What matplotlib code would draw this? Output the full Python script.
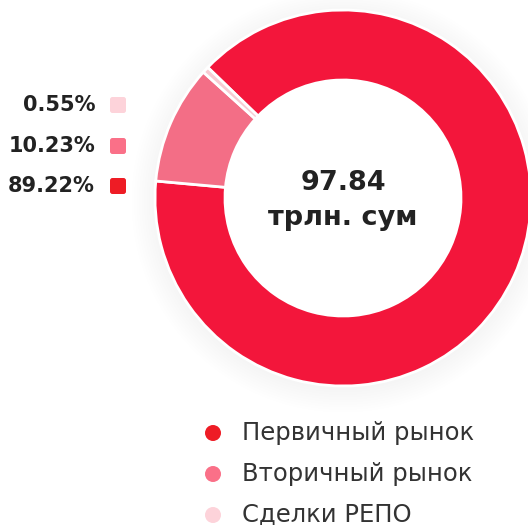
import matplotlib
matplotlib.use("Agg")
import matplotlib.pyplot as plt
from matplotlib.patches import Circle, FancyBboxPatch

# данные
labels = ["Первичный рынок", "Вторичный рынок", "Сделки РЕПО"]
shares = [89.22, 10.23, 0.55]
wedge_colors = ["#F3163B", "#F36E86", "#F8CBD3"]
marker_colors = ["#EE1C25", "#FA7088", "#FDD3DA"]
total_value = "97.84"
total_unit = "трлн. сум"

W, H = 528, 525
fig = plt.figure(figsize=(W / 100, H / 100), dpi=100)
ax = fig.add_axes([0, 0, 1, 1])
ax.set_xlim(0, W)
ax.set_ylim(0, H)
ax.axis("off")

cx, cy = 343, H - 198
R, ring = 188, 70

# лёгкая тень вокруг кольца
for i in range(10):
    ax.add_patch(Circle((cx, cy - 3), R + 1 + i * 2.5, color="black",
                        alpha=0.004, lw=0, zorder=0))
ax.add_patch(Circle((cx, cy), R - ring, color="white", lw=0, zorder=0.5))

ax.pie(shares, colors=wedge_colors, startangle=136, counterclock=False,
       center=(cx, cy), radius=R, frame=True,
       wedgeprops=dict(width=ring, edgecolor="white", linewidth=2))
ax.set_xlim(0, W)
ax.set_ylim(0, H)
ax.axis("off")

ax.text(cx, cy + 15, total_value, ha="center", va="center",
        fontsize=19.5, fontweight="bold", color="#222222")
ax.text(cx, cy - 20, total_unit, ha="center", va="center",
        fontsize=19.5, fontweight="bold", color="#222222")

# проценты слева (сверху вниз: РЕПО, вторичный, первичный)
ys = [105, 146, 186]
for y, idx in zip(ys, [2, 1, 0]):
    ax.text(95, H - y, f"{shares[idx]:.2f}%", ha="right", va="center",
            fontsize=15, fontweight="bold", color="#222222")
    ax.add_patch(FancyBboxPatch((110, H - y - 8), 16, 16,
                                boxstyle="round,pad=0,rounding_size=2.5",
                                color=marker_colors[idx], lw=0))

# легенда снизу
for i, lab in enumerate(labels):
    y = H - (433 + i * 41)
    ax.add_patch(Circle((213, y), 8, color=marker_colors[i], lw=0))
    ax.text(242, y, lab, ha="left", va="center", fontsize=17.5,
            color="#333333")

fig.savefig("out.png", dpi=100)
